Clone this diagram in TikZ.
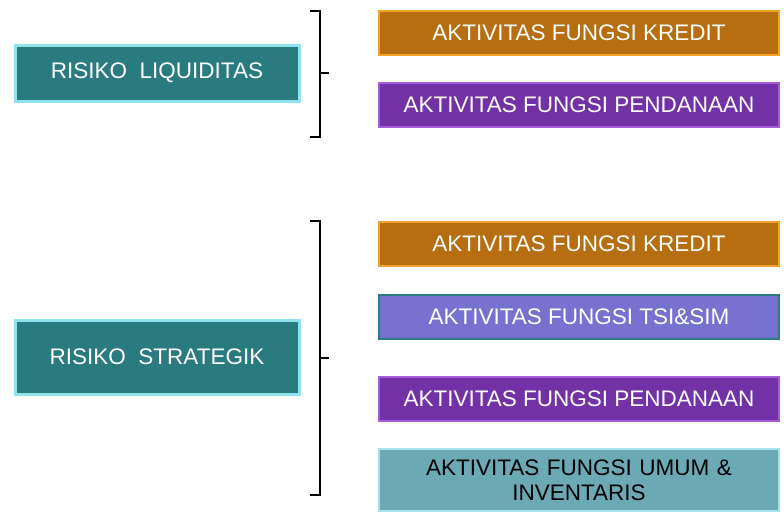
\documentclass[tikz,border=0pt]{standalone}
\usepackage{fontspec}
\setmainfont{Liberation Sans}
\usetikzlibrary{positioning}

\definecolor{tealbox}{HTML}{2A7B80}
\definecolor{tealglow}{HTML}{8FE3EC}
\definecolor{orangebox}{HTML}{B66E10}
\definecolor{orangerim}{HTML}{F5A226}
\definecolor{purplebox}{HTML}{7232A6}
\definecolor{purplerim}{HTML}{A55AD8}
\definecolor{tsibox}{HTML}{7573CF}
\definecolor{tsirim}{HTML}{2C7B80}
\definecolor{umumbox}{HTML}{6BAAB4}
\definecolor{umumrim}{HTML}{A6E2EC}

\tikzset{
  risiko/.style={draw=tealglow, line width=3pt, fill=tealbox, text=white,
    minimum width=284pt, minimum height=56pt, font=\fontsize{22.5}{25}\selectfont},
  aktivitas/.style={line width=2.5pt, text=white, minimum width=400pt,
    minimum height=44pt, font=\fontsize{22.5}{25}\selectfont},
  kredit/.style={aktivitas, draw=orangerim, fill=orangebox},
  pendanaan/.style={aktivitas, draw=purplerim, fill=purplebox},
  tsisim/.style={aktivitas, draw=tsirim, fill=tsibox},
  umum/.style={aktivitas, draw=umumrim, fill=umumbox, text=black,
    minimum height=62pt, align=center, text width=380pt},
  kurung/.style={line width=1.5pt, black}
}

\begin{document}
\begin{tikzpicture}[x=1pt,y=-1pt]
  \useasboundingbox (0,0) rectangle (784,514);

  % Risiko likuiditas
  \node[risiko] (liq) at (157,73) {RISIKO\ \ LIQUIDITAS};
  \node[kredit] (kre1) at (579,33) {AKTIVITAS FUNGSI KREDIT};
  \node[pendanaan] (pen1) at (579,105) {AKTIVITAS FUNGSI PENDANAAN};

  % Kurung kurawal atas
  \coordinate (k1a) at (310,11);
  \coordinate (k1b) at (310,137);
  \coordinate (k1t) at (329,73);
  \draw[kurung] (k1a) -- (320,11) -- (320,137) -- (k1b);
  \draw[kurung] (320,73) -- (k1t);

  % Risiko strategik
  \node[risiko, minimum height=74pt] (str) at (157,357) {RISIKO\ \ STRATEGIK};
  \node[kredit] (kre2) at (579,244) {AKTIVITAS FUNGSI KREDIT};
  \node[tsisim] (tsi) at (579,317) {AKTIVITAS FUNGSI TSI\&SIM};
  \node[pendanaan] (pen2) at (579,399) {AKTIVITAS FUNGSI PENDANAAN};
  \node[umum] (umu) at (579,480) {AKTIVITAS FUNGSI UMUM \&\\INVENTARIS};

  % Kurung kurawal bawah
  \coordinate (k2a) at (310,221);
  \coordinate (k2b) at (310,495);
  \coordinate (k2t) at (329,358);
  \draw[kurung] (k2a) -- (320,221) -- (320,495) -- (k2b);
  \draw[kurung] (320,358) -- (k2t);
\end{tikzpicture}
\end{document}
